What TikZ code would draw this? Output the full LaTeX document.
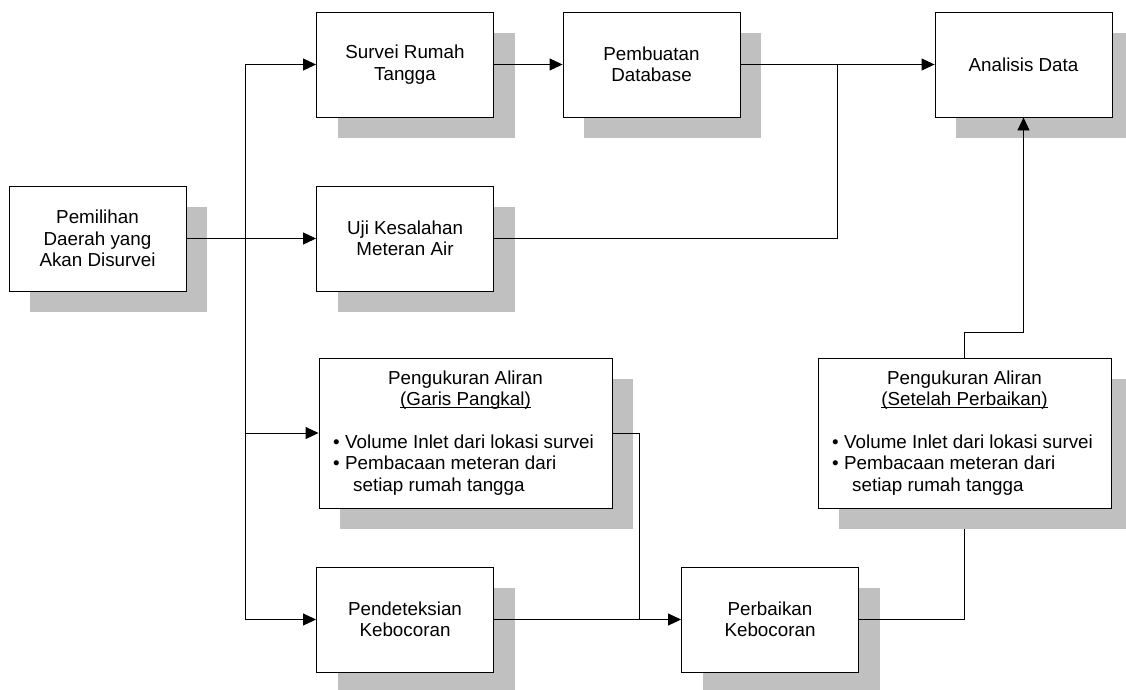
\documentclass[tikz,border=0pt]{standalone}
\usepackage{fontspec}
\setmainfont{Liberation Sans}
\usetikzlibrary{shadows,arrows.meta,calc,backgrounds}
\definecolor{shadowgray}{RGB}{192,192,192}
\newcommand\myul[1]{\setbox0\hbox{#1}\rlap{\rule[-2.5pt]{\wd0}{0.9pt}}\box0}
\begin{document}
\begin{tikzpicture}[x=1pt,y=-1pt,
 box/.style={draw=black, line width=0.9pt, fill=white, minimum width=177pt, minimum height=105pt, inner sep=0pt, align=center, font=\fontsize{18.8}{21.5}\selectfont, drop shadow={shadow xshift=21pt, shadow yshift=-21pt, fill=shadowgray, opacity=1, draw=none}},
 widebox/.style={box, minimum width=293pt, minimum height=150pt},
 txt/.style={inner sep=0pt, font=\fontsize{18.8}{21.5}\selectfont},
 arr/.style={line width=0.9pt, -{Triangle[length=13pt,width=12pt]}},
 conn/.style={line width=0.9pt}]
\clip (0,0) rectangle (1126,689);
% boxes
\node[box] (pem) at (97.5,238.5) {Pemilihan\\Daerah yang\\Akan Disurvei};
\node[box] (survei) at (405,64.5) {Survei Rumah\\Tangga};
\node[box] (pemb) at (651.5,64.5) {Pembuatan\\Database};
\node[box] (anal) at (1023.5,64.5) {Analisis Data};
\node[box] (uji) at (405,238.5) {Uji Kesalahan\\Meteran Air};
\node[widebox] (garis) at (465.5,433) {};
\node[widebox] (setelah) at (964.5,433) {};
\node[box] (pend) at (405,619.5) {Pendeteksian\\Kebocoran};
\node[box] (perb) at (770,619.5) {Perbaikan\\Kebocoran};
% texts of wide boxes
\node[txt, anchor=base] (gt1) at (465.5,384.5) {Pengukuran Aliran};
\node[txt, anchor=base] (gt2) at (465.5,405.5) {\myul{(Garis Pangkal)}};
\node[txt, anchor=base west] (gb1) at (333,448) {•\hspace{5.4pt}Volume Inlet dari lokasi survei};
\node[txt, anchor=base west] (gb2) at (333,469.5) {•\hspace{5.4pt}Pembacaan meteran dari};
\node[txt, anchor=base west] (gb3) at (353,491) {setiap rumah tangga};
\node[txt, anchor=base] (st1) at (964.5,384.5) {Pengukuran Aliran};
\node[txt, anchor=base] (st2) at (964.5,405.5) {\myul{(Setelah Perbaikan)}};
\node[txt, anchor=base west] (sb1) at (832,448) {•\hspace{5.4pt}Volume Inlet dari lokasi survei};
\node[txt, anchor=base west] (sb2) at (832,469.5) {•\hspace{5.4pt}Pembacaan meteran dari};
\node[txt, anchor=base west] (sb3) at (852,491) {setiap rumah tangga};
% junctions
\coordinate (j1) at (245,238.5);
\coordinate (j2) at (837,64.5);
\coordinate (j3) at (639,619.5);
\coordinate (j4) at (1023.5,332);
\coordinate (j5) at (964.5,619.5);
% connectors
\draw[arr] (pem.east) -- (uji.west);
\draw[arr] (j1) |- (survei.west);
\draw[arr] (j1) |- (garis.west);
\draw[arr] (j1) |- (pend.west);
\draw[arr] (survei.east) -- (pemb.west);
\draw[arr] (pemb.east) -- (anal.west);
\draw[conn] (uji.east) -| (j2);
\draw[conn] (garis.east) -| (j3);
\draw[arr] (pend.east) -- (perb.west);
\draw[conn] (perb.east) -- (j5);
\begin{pgfonlayer}{background}
\draw[conn] (j5) -- (setelah.south);
\end{pgfonlayer}
\draw[arr] (setelah.north) |- (j4) -- (anal.south);
\end{tikzpicture}
\end{document}
